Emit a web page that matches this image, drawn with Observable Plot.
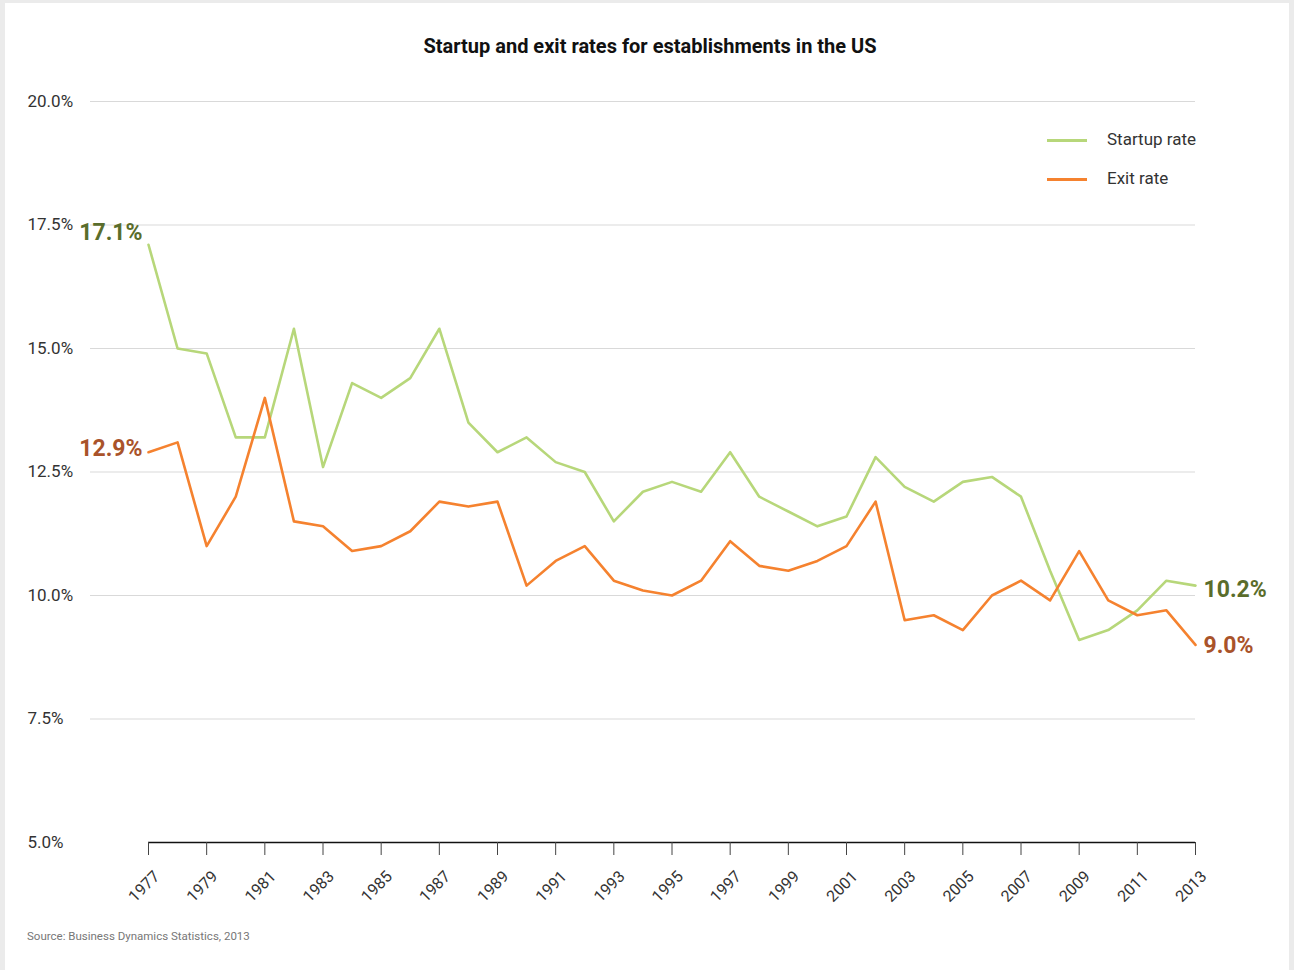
<!DOCTYPE html>
<html>
<head>
<meta charset="utf-8">
<script src="https://cdn.jsdelivr.net/npm/d3@7"></script>
<script src="https://cdn.jsdelivr.net/npm/@observablehq/plot@0.6"></script>
<style>
  body { margin:0; background:#ebebeb; font-family: Roboto, "Noto Sans", sans-serif; }
  #panel { position:absolute; left:5px; top:3px; width:1284px; height:967px; background:#fff; }
  #title { position:absolute; left:0; top:34px; width:1300px; text-align:center; font-size:20px; font-weight:bold; color:#111; }
  #chart { position:absolute; left:0; top:70px; }
  #legend { position:absolute; left:1047px; top:129px; font-size:17px; color:#333; }
  .li { position:relative; height:39px; }
  .sw { position:absolute; left:0; top:10px; width:40px; height:3px; }
  .lt { position:absolute; left:60px; top:0; white-space:nowrap; }
  #source { position:absolute; left:27px; top:929px; font-size:11.5px; color:#777; }
</style>
</head>
<body>
<div id="panel"></div>
<div id="title">Startup and exit rates for establishments in the US</div>
<div id="chart"></div>
<div id="legend"></div>
<div id="source">Source: Business Dynamics Statistics, 2013</div>
<script>
const years = [1977,1978,1979,1980,1981,1982,1983,1984,1985,1986,1987,1988,1989,1990,1991,1992,1993,1994,1995,1996,1997,1998,1999,2000,2001,2002,2003,2004,2005,2006,2007,2008,2009,2010,2011,2012,2013];
const startupRate = [17.1,15.0,14.9,13.2,13.2,15.4,12.6,14.3,14.0,14.4,15.4,13.5,12.9,13.2,12.7,12.5,11.5,12.1,12.3,12.1,12.9,12.0,11.7,11.4,11.6,12.8,12.2,11.9,12.3,12.4,12.0,10.5,9.1,9.3,9.7,10.3,10.2];
const exitRate = [12.9,13.1,11.0,12.0,14.0,11.5,11.4,10.9,11.0,11.3,11.9,11.8,11.9,10.2,10.7,11.0,10.3,10.1,10.0,10.3,11.1,10.6,10.5,10.7,11.0,11.9,9.5,9.6,9.3,10.0,10.3,9.9,10.9,9.9,9.6,9.7,9.0];
const seriesNames = ["Startup rate", "Exit rate"];
const seriesColors = ["#b7d77a", "#f5822f"];
const labelColors = ["#5a6d2b", "#a9532a"];
const yTicks = [5, 7.5, 10, 12.5, 15, 17.5, 20];
const xTicks = [1977,1979,1981,1983,1985,1987,1989,1991,1993,1995,1997,1999,2001,2003,2005,2007,2009,2011,2013];

const rows = [];
years.forEach((yr, i) => {
  rows.push({year: yr, series: seriesNames[0], value: startupRate[i]});
  rows.push({year: yr, series: seriesNames[1], value: exitRate[i]});
});
const n = years.length;
const startFirst = [{year: years[0], value: startupRate[0]}];
const exitFirst = [{year: years[0], value: exitRate[0]}];
const startLast = [{year: years[n-1], value: startupRate[n-1]}];
const exitLast = [{year: years[n-1], value: exitRate[n-1]}];
const fmt = d => d.toFixed(1) + "%";

const chart = Plot.plot({
  width: 1294,
  height: 840,
  marginLeft: 148,
  marginRight: 99,
  marginTop: 31,
  marginBottom: 68,
  style: { fontFamily: "Roboto, 'Noto Sans', sans-serif", background: "transparent", overflow: "visible" },
  x: { domain: [1977, 2013], axis: null },
  y: { domain: [5, 20], axis: null },
  color: { domain: seriesNames, range: seriesColors },
  marks: [
    Plot.ruleY(yTicks.filter(d => d > 5), { stroke: "#d9d9d9", strokeWidth: 1, insetLeft: -58 }),
    Plot.text(yTicks, { y: d => d, text: fmt, frameAnchor: "left", textAnchor: "start", dx: -121, fontSize: 17, fill: "#333" }),
    Plot.ruleY([5], { stroke: "#111", strokeWidth: 1.5 }),
    Plot.axisX({ ticks: xTicks, tickFormat: () => "", tickSize: 13, stroke: "#444", label: null }),
    Plot.text(xTicks, { x: d => d, text: d => String(d), frameAnchor: "bottom", rotate: -45, textAnchor: "end", dx: 12, dy: 35, fontSize: 16, fill: "#333" }),
    Plot.lineY(rows, { x: "year", y: "value", z: "series", stroke: "series", strokeWidth: 2.6 }),
    Plot.text(startFirst, { x: "year", y: "value", text: d => fmt(d.value), fill: labelColors[0], textAnchor: "end", dx: -6, dy: -12, fontSize: 23, fontWeight: "bold" }),
    Plot.text(exitFirst, { x: "year", y: "value", text: d => fmt(d.value), fill: labelColors[1], textAnchor: "end", dx: -6, dy: -4, fontSize: 23, fontWeight: "bold" }),
    Plot.text(startLast, { x: "year", y: "value", text: d => fmt(d.value), fill: labelColors[0], textAnchor: "start", dx: 8, dy: 4, fontSize: 23, fontWeight: "bold" }),
    Plot.text(exitLast, { x: "year", y: "value", text: d => fmt(d.value), fill: labelColors[1], textAnchor: "start", dx: 8, dy: 1, fontSize: 23, fontWeight: "bold" })
  ]
});
document.getElementById("chart").appendChild(chart);

const legend = document.getElementById("legend");
seriesNames.forEach((name, i) => {
  const li = document.createElement("div");
  li.className = "li";
  li.innerHTML = `<div class="sw" style="background:${seriesColors[i]}"></div><div class="lt">${name}</div>`;
  legend.appendChild(li);
});
</script>
</body>
</html>
